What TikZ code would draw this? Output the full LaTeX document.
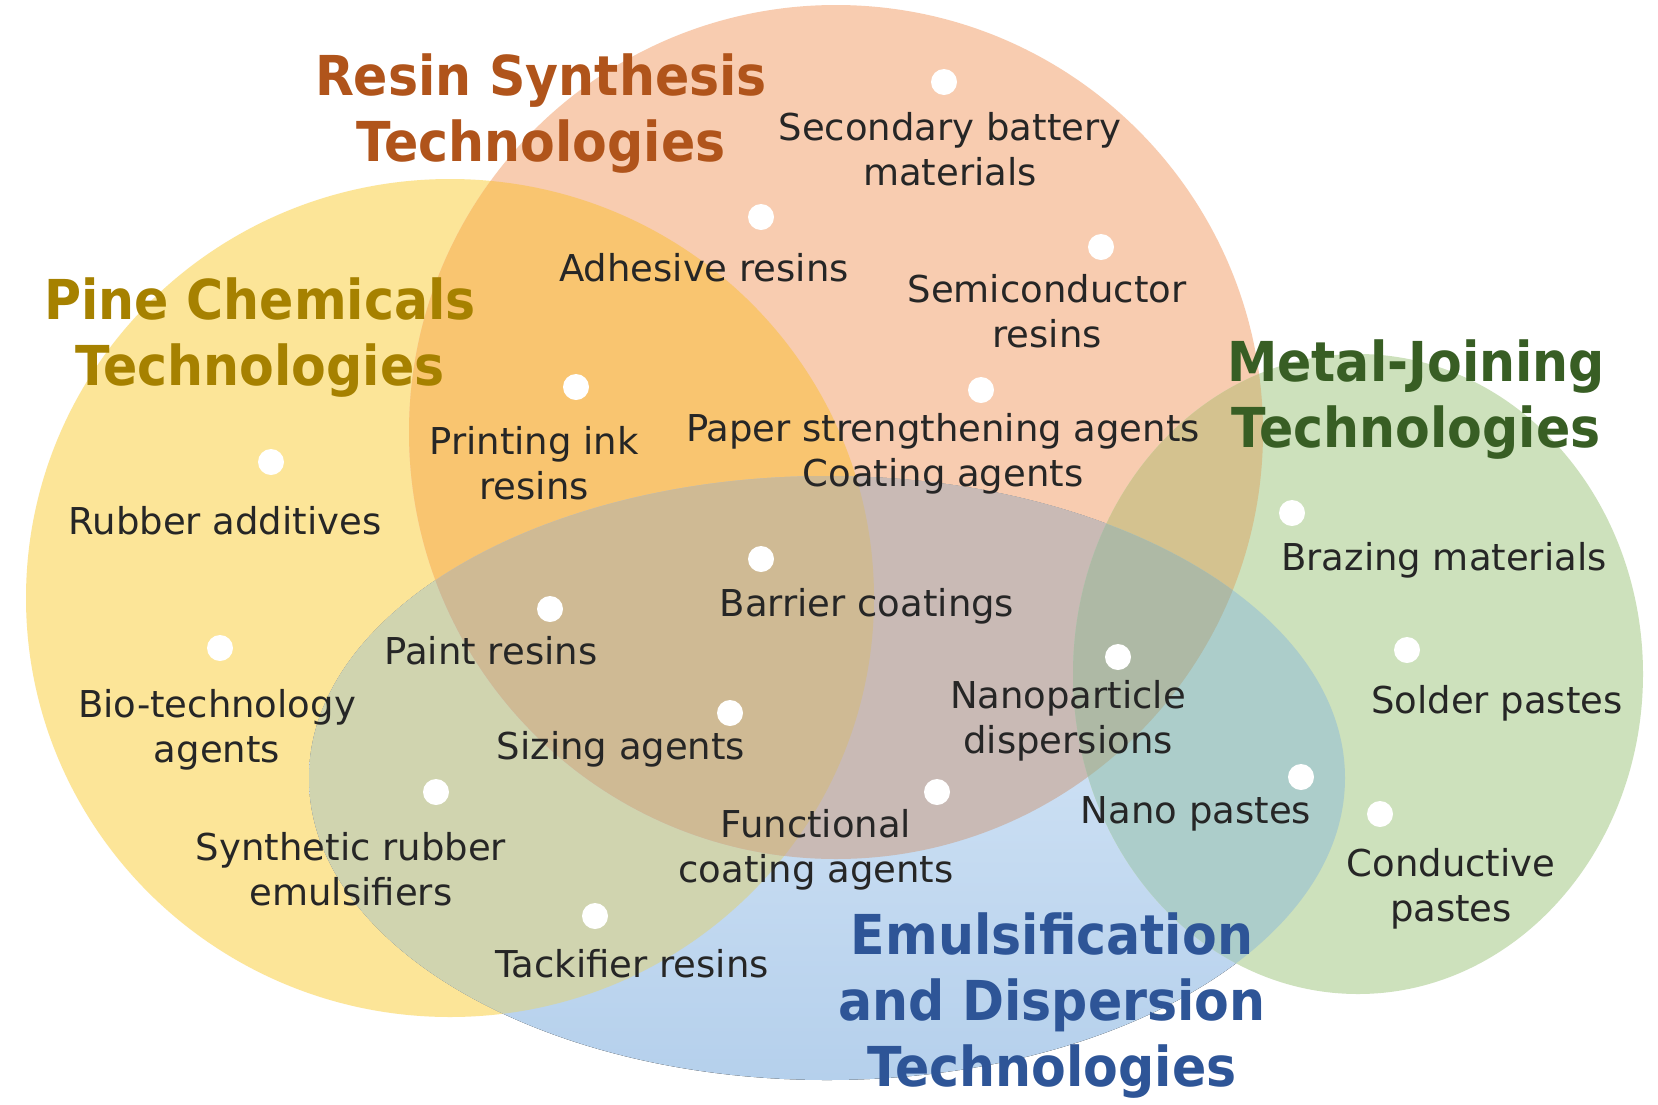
\documentclass[tikz,border=0pt]{standalone}
\usepackage{fontspec}
\setmainfont{DejaVu Sans}
\newfontfamily\titlefont[FakeStretch=0.92]{DejaVu Sans}
\definecolor{cY}{HTML}{FCE598}
\definecolor{cO}{HTML}{F8CCB0}
\definecolor{cBt}{HTML}{E0EDFA}
\definecolor{cBb}{HTML}{B5D0EC}
\definecolor{cG}{HTML}{CDE1BC}
\definecolor{cYO}{HTML}{F9C570}
\definecolor{cYB}{HTML}{D0D4AF}
\definecolor{cOB}{HTML}{C9BAB5}
\definecolor{cYOB}{HTML}{CFBA94}
\definecolor{cOG}{HTML}{D4C28F}
\definecolor{cBG}{HTML}{ACCDCA}
\definecolor{cOBG}{HTML}{AEB9A5}
\definecolor{tResin}{HTML}{B0541B}
\definecolor{tPine}{HTML}{A68100}
\definecolor{tMetal}{HTML}{385E24}
\definecolor{tEmul}{HTML}{2E5597}
\definecolor{txt}{HTML}{262626}
\def\vennY{(450,598) ellipse [x radius=424pt, y radius=419pt]}
\def\vennO{(836,432) ellipse [x radius=427pt, y radius=427pt]}
\def\vennB{(827,778) ellipse [x radius=518pt, y radius=302pt]}
\def\vennG{(1358,674) ellipse [x radius=285pt, y radius=320pt]}
\begin{document}
\begin{tikzpicture}[x=1pt,y=-1pt,
  dot/.style={circle,fill=white,inner sep=0pt,minimum size=26pt},
  lab/.style={text=txt,align=center,inner sep=0pt,font=\fontsize{37}{45}\selectfont},
  ttl/.style={align=center,inner sep=0pt,font=\titlefont\bfseries\fontsize{55}{66}\selectfont}]
\useasboundingbox (0,0) rectangle (1658,1104);
\fill[white] (0,0) rectangle (1658,1104);
\fill[cY] \vennY;
\fill[cO] \vennO;
\fill[top color=cBt,bottom color=cBb] \vennB;
\fill[cG] \vennG;
\begin{scope}\clip \vennY; \fill[cYO] \vennO; \end{scope}
\begin{scope}\clip \vennY; \fill[cYB] \vennB; \end{scope}
\begin{scope}\clip \vennO; \fill[cOB] \vennB; \end{scope}
\begin{scope}\clip \vennY; \clip \vennO; \fill[cYOB] \vennB; \end{scope}
\begin{scope}\clip \vennO; \fill[cOG] \vennG; \end{scope}
\begin{scope}\clip \vennB; \fill[cBG] \vennG; \end{scope}
\begin{scope}\clip \vennO; \clip \vennB; \fill[cOBG] \vennG; \end{scope}
% titles
\node[ttl,text=tResin] (tresin) at (541,114) {Resin Synthesis\\Technologies};
\node[ttl,text=tPine] (tpine) at (260,338) {Pine Chemicals\\Technologies};
\node[ttl,text=tMetal] (tmetal) at (1416,400) {Metal-Joining\\Technologies};
\node[ttl,text=tEmul] (temul) at (1052,1006) {Emulsification\\and Dispersion\\Technologies};
% dots
\node[dot] (d1) at (944,82) {};
\node[dot] (d2) at (761,217) {};
\node[dot] (d3) at (1101,247) {};
\node[dot] (d4) at (981,390) {};
\node[dot] (d5) at (576,387) {};
\node[dot] (d6) at (271,462) {};
\node[dot] (d7) at (761,559) {};
\node[dot] (d8) at (550,609) {};
\node[dot] (d9) at (220,648) {};
\node[dot] (d10) at (730,713) {};
\node[dot] (d11) at (1118,657) {};
\node[dot] (d12) at (1292,513) {};
\node[dot] (d13) at (1407,650) {};
\node[dot] (d14) at (436,792) {};
\node[dot] (d15) at (937,792) {};
\node[dot] (d16) at (1301,777) {};
\node[dot] (d17) at (1380,814) {};
\node[dot] (d18) at (595,916) {};
% labels
\node[lab] (l1) at (950,149) {Secondary battery\\materials};
\node[lab] (l2) at (704,268) {Adhesive resins};
\node[lab] (l3) at (1047,311) {Semiconductor\\resins};
\node[lab] (l4) at (943,454) {Paper strengthening agents\\Coating agents};
\node[lab] (l5) at (534,463) {Printing ink\\resins};
\node[lab] (l6) at (225,521) {Rubber additives};
\node[lab] (l7) at (867,606) {Barrier coatings};
\node[lab] (l8) at (491,651) {Paint resins};
\node[lab] (l9) at (217,730) {Bio-technology\\agents};
\node[lab] (l10) at (621,749) {Sizing agents};
\node[lab] (l11) at (1068,721) {Nanoparticle\\dispersions};
\node[lab] (l12) at (1444,560) {Brazing materials};
\node[lab] (l13) at (1497,703) {Solder pastes};
\node[lab] (l14) at (351,869) {Synthetic rubber\\emulsifiers};
\node[lab] (l15) at (816,850) {Functional\\coating agents};
\node[lab] (l16) at (1196,814) {Nano pastes};
\node[lab] (l17) at (1451,889) {Conductive\\pastes};
\node[lab] (l18) at (632,964) {Tackifier resins};
\end{tikzpicture}
\end{document}
